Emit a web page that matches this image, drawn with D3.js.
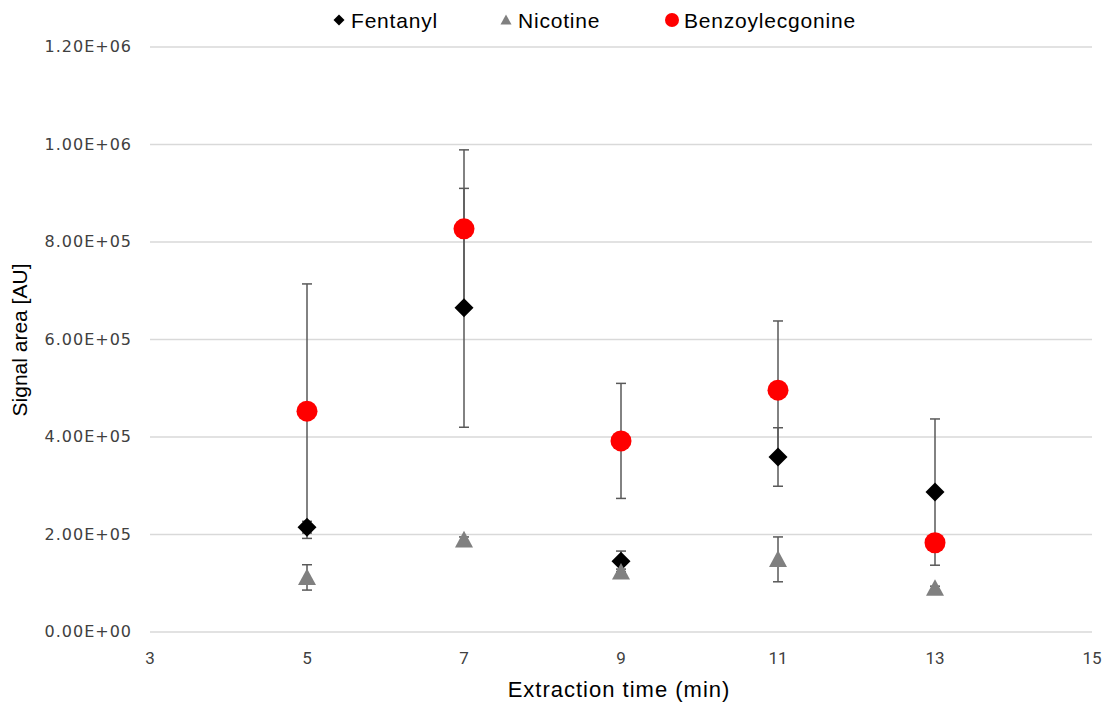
<!DOCTYPE html>
<html>
<head>
<meta charset="utf-8">
<script src="https://cdn.jsdelivr.net/npm/d3@7"></script>
<style>
  body { margin: 0; background: #fff; }
  svg text { fill: #000; }
</style>
</head>
<body>
<div id="chart"></div>
<script>
var canvasWidth = 1107;
var canvasHeight = 705;

/*Data*/
var times = [5, 7, 9, 11, 13];
var seriesNames = ["Fentanyl", "Nicotine", "Benzoylecgonine"];
var fentanyl = [215000, 665000, 145000, 359000, 287000];
var fentanylErr = [12000, 245000, 21000, 60000, 150000];
var nicotine = [112000, 189000, 123000, 149000, 90000];
var nicotineErr = [26000, 6000, 6000, 46000, 4000];
var benzo = [453000, 827000, 392000, 496000, 183000];
var benzoErr = [261000, 162000, 118000, 142000, 8000];
var xTicks = [3, 5, 7, 9, 11, 13, 15];
var yTicks = [0, 200000, 400000, 600000, 800000, 1000000, 1200000];

var svg = d3.select("#chart").append("svg")
    .attr("width", canvasWidth)
    .attr("height", canvasHeight);

var xScale = d3.scaleLinear().domain([3, 15]).range([150, 1092]);
var yScale = d3.scaleLinear().domain([0, 1200000]).range([632, 47]);

/*Gridlines*/
svg.append("g")
    .selectAll("line")
    .data(yTicks)
    .join("line")
    .attr("x1", xScale(3))
    .attr("x2", xScale(15))
    .attr("y1", function(d) { return yScale(d); })
    .attr("y2", function(d) { return yScale(d); })
    .attr("stroke", "#d9d9d9")
    .attr("stroke-width", 1.3);

/*Y tick labels*/
function sciFormat(v) {
    var s = v.toExponential(2).toUpperCase();   // e.g. 1.20E+6
    return s.replace(/E([+-])(\d)$/, "E$10$2");
}
svg.append("g")
    .selectAll("text")
    .data(yTicks)
    .join("text")
    .attr("x", 132)
    .attr("y", function(d) { return yScale(d) + 5; })
    .attr("text-anchor", "end")
    .style("font-family", "'DejaVu Sans', sans-serif")
    .style("font-size", "16px")
    .style("letter-spacing", "1px")
    .style("fill", "#404040")
    .text(sciFormat);

/*X tick labels*/
svg.append("g")
    .selectAll("text")
    .data(xTicks)
    .join("text")
    .attr("x", function(d) { return xScale(d); })
    .attr("y", 664)
    .attr("text-anchor", "middle")
    .style("font-family", "'Liberation Sans Narrow', 'Roboto', sans-serif")
    .style("font-size", "17px")
    .style("fill", "#404040")
    .text(function(d) { return d; });

/*Axis titles*/
svg.append("text")
    .attr("x", 619)
    .attr("y", 697)
    .attr("text-anchor", "middle")
    .style("font-family", "'Liberation Sans', sans-serif")
    .style("font-size", "22px")
    .style("letter-spacing", "1px")
    .text("Extraction time (min)");

svg.append("text")
    .attr("transform", "translate(27," + 340 + ") rotate(-90)")
    .attr("text-anchor", "middle")
    .style("font-family", "'Liberation Sans', sans-serif")
    .style("font-size", "21px")
    .text("Signal area [AU]");

/*Build series table*/
var series = [
    {name: seriesNames[0], values: fentanyl, errs: fentanylErr, color: "#000000", shape: "diamond"},
    {name: seriesNames[1], values: nicotine, errs: nicotineErr, color: "#808080", shape: "triangle"},
    {name: seriesNames[2], values: benzo, errs: benzoErr, color: "#ff0000", shape: "circle"}
];

function shapePath(shape, size) {
    if (shape === "diamond") {
        var h = size / 2;
        return "M0," + (-h) + "L" + h + ",0L0," + h + "L" + (-h) + ",0Z";
    }
    if (shape === "triangle") {
        var w = size / 2;
        return "M0," + (-size * 0.5) + "L" + w + "," + (size * 0.42) + "L" + (-w) + "," + (size * 0.42) + "Z";
    }
    var r = size / 2;
    return "M" + r + ",0A" + r + "," + r + " 0 1,1 " + (-r) + ",0A" + r + "," + r + " 0 1,1 " + r + ",0Z";
}

var sizes = {diamond: 19, triangle: 18, circle: 21};

series.forEach(function(s) {
    var pts = times.map(function(t, i) { return {x: t, y: s.values[i], e: s.errs[i]}; });
    var g = svg.append("g");

    /*Error bars*/
    var eb = g.selectAll(".err").data(pts).join("g").attr("class", "err");
    eb.append("line")
        .attr("x1", function(d) { return xScale(d.x); })
        .attr("x2", function(d) { return xScale(d.x); })
        .attr("y1", function(d) { return yScale(d.y + d.e); })
        .attr("y2", function(d) { return yScale(d.y - d.e); })
        .attr("stroke", "#595959").attr("stroke-width", 1.5);
    [1, -1].forEach(function(sign) {
        eb.append("line")
            .attr("x1", function(d) { return xScale(d.x) - 5; })
            .attr("x2", function(d) { return xScale(d.x) + 5; })
            .attr("y1", function(d) { return yScale(d.y + sign * d.e); })
            .attr("y2", function(d) { return yScale(d.y + sign * d.e); })
            .attr("stroke", "#595959").attr("stroke-width", 1.5);
    });
    s.pts = pts;
});

/*Markers on top of error bars*/
series.forEach(function(s) {
    svg.append("g")
        .selectAll("path")
        .data(s.pts)
        .join("path")
        .attr("transform", function(d) { return "translate(" + xScale(d.x) + "," + yScale(d.y) + ")"; })
        .attr("d", shapePath(s.shape, sizes[s.shape]))
        .attr("fill", s.color);
});

/*Legend*/
var legendX = [339, 506, 672];
var legend = svg.append("g")
    .selectAll("g")
    .data(series)
    .join("g")
    .attr("transform", function(d, i) { return "translate(" + legendX[i] + ",20)"; });
legend.append("path")
    .attr("d", function(d) { return shapePath(d.shape, d.shape === "circle" ? 14 : 11); })
    .attr("fill", function(d) { return d.color; });
legend.append("text")
    .attr("x", 12)
    .attr("y", 8)
    .style("font-family", "'Liberation Sans', sans-serif")
    .style("font-size", "21px")
    .style("letter-spacing", "0.8px")
    .text(function(d) { return d.name; });
</script>
</body>
</html>
